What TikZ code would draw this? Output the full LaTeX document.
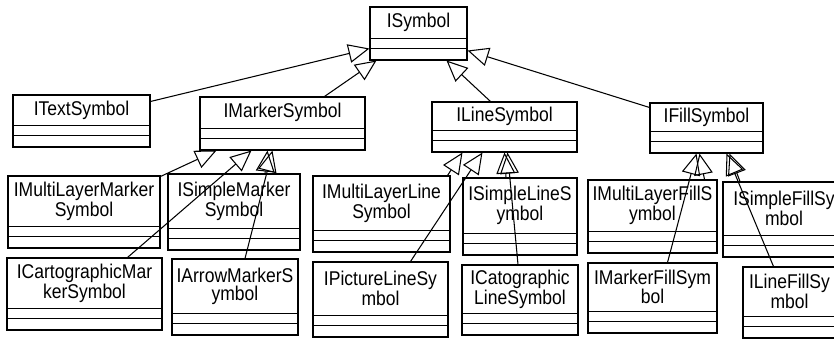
\documentclass[tikz,border=0pt]{standalone}
\usepackage{fontspec}
\usetikzlibrary{arrows.meta, calc, fit}

\newfontfamily\umlfont[FakeStretch=0.88]{Liberation Sans}

\tikzset{
    classbox/.style={draw, line width=0.9pt, inner sep=0pt, fill=white},
    classname/.style={align=center, inner sep=0pt,
        font=\umlfont\fontsize{17}{15.6}\selectfont},
    inherit/.style={-{Triangle[open, length=18pt, width=16pt]}, line width=0.9pt},
}

% class box: name, top left x/y, bottom right x/y, label
\newcommand{\umlclass}[6]{%
    \coordinate (#1-tl) at (#2, #3);
    \coordinate (#1-br) at (#4, #5);
    \node [classbox, fit=(#1-tl) (#1-br)] (#1) {};
    \draw [line width=0.9pt] ($(#1.south west)+(0,-12)$) -- ($(#1.south east)+(0,-12)$);
    \draw [line width=0.9pt] ($(#1.south west)+(0,-22)$) -- ($(#1.south east)+(0,-22)$);
    \node [classname] (#1-label) at ($(#1.center)+(0,-11)$) {#6};
}

\begin{document}
\begin{tikzpicture}[x=0.03cm, y=-0.03cm]

    \useasboundingbox (0, 0) rectangle (834, 342);

    % root
    \umlclass{ISymbol}{370}{7}{467}{60}{ISymbol}

    % first level
    \umlclass{ITextSymbol}{13}{95}{150}{147}{ITextSymbol}
    \umlclass{IMarkerSymbol}{200}{97}{365}{150}{IMarkerSymbol}
    \umlclass{ILineSymbol}{432}{102}{577}{152}{ILineSymbol}
    \umlclass{IFillSymbol}{650}{103}{763}{153}{IFillSymbol}

    % second level
    \umlclass{IMultiLayerMarkerSymbol}{8}{176}{160}{248}{IMultiLayerMarker\\Symbol}
    \umlclass{ISimpleMarkerSymbol}{168}{174}{300}{250}{ISimpleMarker\\Symbol}
    \umlclass{IMultiLayerLineSymbol}{313}{176}{450}{252}{IMultiLayerLine\\Symbol}
    \umlclass{ISimpleLineSymbol}{463}{178}{577}{255}{ISimpleLineS\\ymbol}
    \umlclass{IMultiLayerFillSymbol}{588}{180}{717}{253}{IMultiLayerFillS\\ymbol}
    \umlclass{ISimpleFillSymbol}{723}{182}{845}{257}{ISimpleFillSy\\mbol}

    % third level
    \umlclass{ICartographicMarkerSymbol}{7}{258}{162}{330}{ICartographicMar\\kerSymbol}
    \umlclass{IArrowMarkerSymbol}{172}{259}{298}{335}{IArrowMarkerS\\ymbol}
    \umlclass{IPictureLineSymbol}{313}{262}{448}{337}{IPictureLineSy\\mbol}
    \umlclass{ICatographicLineSymbol}{462}{265}{578}{335}{ICatographic\\LineSymbol}
    \umlclass{IMarkerFillSymbol}{588}{263}{717}{333}{IMarkerFillSym\\bol}
    \umlclass{ILineFillSymbol}{743}{267}{836}{338}{ILineFillSy\\mbol}

    % generalisations to ISymbol
    \draw [inherit] ($(ITextSymbol.north east)+(0,7)$) -- ($(ISymbol.south west)+(0,-12)$);
    \draw [inherit] ($(IMarkerSymbol.north)+(42,0)$) -- ($(ISymbol.south west)+(7,0)$);
    \draw [inherit] ($(ILineSymbol.north)+(-14,0)$) -- ($(ISymbol.south)+(28,0)$);
    \draw [inherit] ($(IFillSymbol.north west)+(0,5)$) -- ($(ISymbol.south east)+(0,-10)$);

    % generalisations to IMarkerSymbol
    \draw [inherit] ($(IMultiLayerMarkerSymbol.north east)+(0,1)$) -- ($(IMarkerSymbol.south west)+(17,0)$);
    \draw [inherit] ($(ICartographicMarkerSymbol.north)+(43,0)$) -- ($(IMarkerSymbol.south west)+(52,0)$);
    \draw [inherit] ($(ISimpleMarkerSymbol.north)+(31,0)$) -- ($(IMarkerSymbol.south west)+(68,0)$);
    \draw [inherit] ($(IArrowMarkerSymbol.north)+(10,0)$) -- ($(IMarkerSymbol.south west)+(73,0)$);

    % generalisations to ILineSymbol
    \draw [inherit] ($(IMultiLayerLineSymbol.north east)+(-3,0)$) -- ($(ILineSymbol.south west)+(31,0)$);
    \draw [inherit] ($(IPictureLineSymbol.north)+(30,0)$) -- ($(ILineSymbol.south west)+(51,0)$);
    \draw [inherit] ($(ISimpleLineSymbol.north)+(-14,0)$) -- ($(ILineSymbol.south west)+(73,0)$);
    \draw [inherit] ($(ICatographicLineSymbol.north)+(-2,0)$) -- ($(ILineSymbol.south west)+(76,0)$);

    % generalisations to IFillSymbol
    \draw [inherit] ($(IMultiLayerFillSymbol.north)+(52,0)$) -- ($(IFillSymbol.south west)+(50,0)$);
    \draw [inherit] ($(IMarkerFillSymbol.north)+(15,0)$) -- ($(IFillSymbol.south west)+(47,0)$);
    \draw [inherit] ($(ISimpleFillSymbol.north)+(-44,0)$) -- ($(IFillSymbol.south west)+(80,0)$);
    \draw [inherit] ($(ILineFillSymbol.north)+(-16,0)$) -- ($(IFillSymbol.south west)+(77,0)$);

\end{tikzpicture}
\end{document}
